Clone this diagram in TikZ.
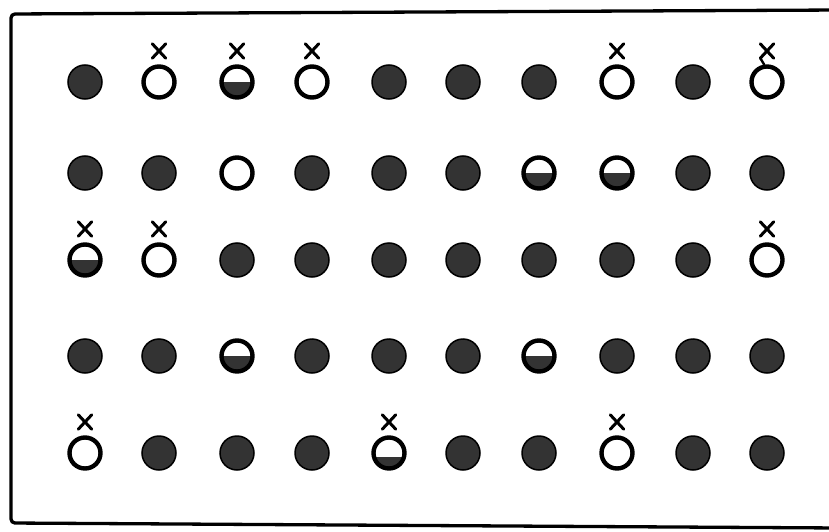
\documentclass[tikz,border=0pt]{standalone}
\begin{document}
\begin{tikzpicture}[x=1pt,y=-1pt,
  dotfill/.style={fill=black!80},
  fullc/.style={circle, draw=black, line width=1.5pt, dotfill, minimum size=34pt, inner sep=0pt},
  openc/.style={circle, draw=black, line width=4.4pt, fill=white, minimum size=31pt, inner sep=0pt},
  halfc/.style={openc, path picture={\fill[black!80] ([yshift=#1]path picture bounding box.west) rectangle (path picture bounding box.south east);}},
  halfc/.default=0pt,
  halflow/.style={halfc=-4pt},
  xbox/.style={inner sep=0pt, minimum width=13pt, minimum height=14pt},
  xline/.style={line width=3pt, line cap=round}]
\useasboundingbox (0,0) rectangle (829,532);
\draw[line width=3.3pt, rounded corners=4pt] (840,10) -- (11,14) -- (11,523) -- (840,528);
\foreach \r/\y/\codes in {
  1/82/{fullc/0,openc/1,halfc/1,openc/1,fullc/0,fullc/0,fullc/0,openc/1,fullc/0,openc/1},
  2/173/{fullc/0,fullc/0,openc/0,fullc/0,fullc/0,fullc/0,halfc/0,halfc/0,fullc/0,fullc/0},
  3/260/{halfc/1,openc/1,fullc/0,fullc/0,fullc/0,fullc/0,fullc/0,fullc/0,fullc/0,openc/1},
  4/356/{fullc/0,fullc/0,halfc/0,fullc/0,fullc/0,fullc/0,halfc/0,fullc/0,fullc/0,fullc/0},
  5/453/{openc/1,fullc/0,fullc/0,fullc/0,halflow/1,fullc/0,fullc/0,openc/1,fullc/0,fullc/0}}{
  \foreach \t/\m [count=\i] in \codes {
    \pgfmathsetmacro{\xx}{{85,159,237,312,389,463,539,617,693,767}[\i-1]}
    \node[\t] (r\r c\i) at (\xx,\y) {};
    \ifnum\m=1
      \node[xbox] (x\r c\i) at ([yshift=31pt]r\r c\i.center) {};
      \draw[xline] (x\r c\i.north west) -- (x\r c\i.south east)
                   (x\r c\i.north east) -- (x\r c\i.south west);
    \fi
  }
}
\draw[xline, line width=2.4pt] (x1c10.south west) -- ([xshift=-3pt]r1c10.north);
\end{tikzpicture}
\end{document}
